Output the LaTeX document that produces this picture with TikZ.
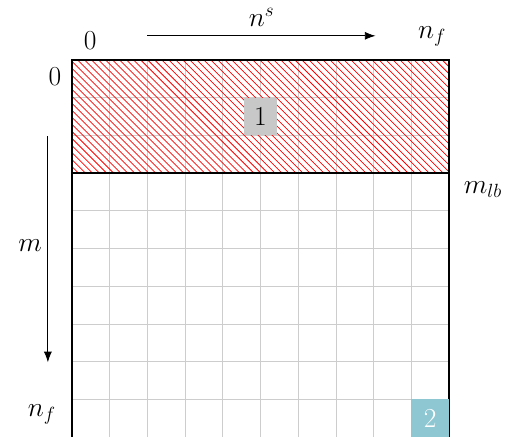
\documentclass[tikz,border=0pt]{standalone}
\usetikzlibrary{arrows.meta}
\definecolor{cellteal}{RGB}{142,199,210}
\definecolor{cellgray}{RGB}{200,200,200}
\definecolor{gridgray}{RGB}{205,205,205}
\begin{document}
\begin{tikzpicture}[
  every node/.style={font=\fontsize{20.74}{25}\selectfont},
  lbl/.style={inner sep=1pt},
  frame/.style={line width=1.2pt,black},
  arr/.style={-{Latex[length=8pt,width=6pt]},line width=0.6pt},
  hatchline/.style={red,line width=0.55pt}
]
\useasboundingbox (-1.91,0) rectangle (11.565,11.59);
% grid
\draw[gridgray,line width=0.5pt] (0,0) grid (10,10);
% hatched band
\begin{scope}
  \clip (0,7) rectangle (10,10);
  \foreach \x in {-3.2,-3.014,...,10.2} {
    \draw[hatchline] (\x,10) -- ++(3,-3);
  }
\end{scope}
% frame
\draw[frame] (0,0) -- (0,10) -- (10,10) -- (10,0);
\draw[frame] (0,7) -- (10,7);
% cells
\node[fill=cellgray,minimum width=0.9cm,minimum height=1cm,inner sep=0pt] (c1) at (5,8.5) {1};
\node[fill=cellteal,text=white,minimum size=1cm,inner sep=0pt] (c2) at (9.5,0.5) {2};
% labels
\node[lbl] (t0) at (0.48,10.5) {$0$};
\node[lbl] (tnf) at (9.55,10.62) {$n_f$};
\node[lbl] (l0) at (-0.45,9.55) {$0$};
\node[lbl] (lnf) at (-0.8,0.6) {$n_f$};
\node[lbl] (mlb) at (10.9,6.55) {$m_{lb}$};
\node[lbl] (m) at (-1.11,5.07) {$m$};
\node[lbl] (ns) at (5.03,11.12) {$n^s$};
% arrows
\coordinate (hs) at (2.0,10.64);
\coordinate (he) at (8.05,10.64);
\coordinate (vs) at (-0.64,7.98);
\coordinate (ve) at (-0.64,1.98);
\draw[arr] (hs) -- (he);
\draw[arr] (vs) -- (ve);
\end{tikzpicture}
\end{document}
